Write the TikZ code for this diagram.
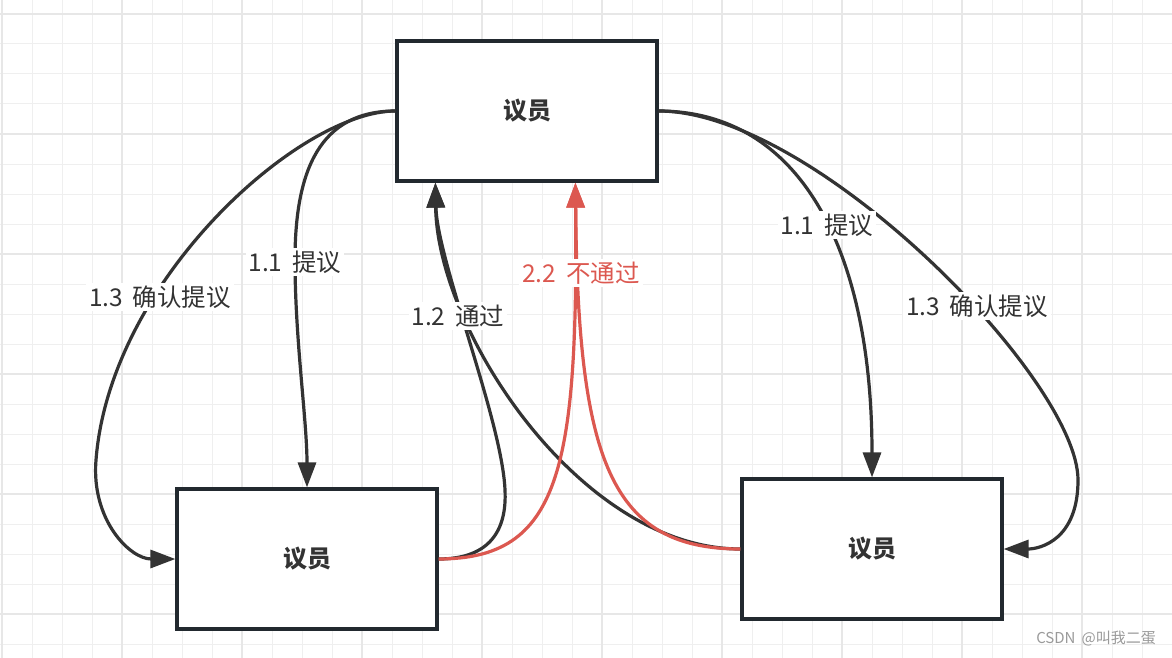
\documentclass[tikz,border=0pt]{standalone}
\usepackage{fontspec}
\setmainfont{Noto Sans CJK SC}[WordSpace=1.8]
\usetikzlibrary{arrows.meta,calc}
\definecolor{linedark}{HTML}{333333}
\definecolor{boxborder}{HTML}{22292F}
\definecolor{redline}{RGB}{220,88,80}
\definecolor{gridminor}{HTML}{EFEFEF}
\definecolor{gridmajor}{HTML}{E7E7E7}
\definecolor{wmgray}{HTML}{9A9A9A}
\tikzset{
  member/.style={draw=boxborder, line width=3.2pt, fill=white, minimum width=260pt, minimum height=140pt, inner sep=0pt, font=\fontsize{24}{27}\selectfont\bfseries, text=linedark},
  conn/.style={draw=linedark, line width=3.2pt, -{Triangle[length=25pt,width=18pt]}},
  redconn/.style={draw=redline, line width=3.2pt, -{Triangle[length=25pt,width=18pt]}},
  lbl/.style={fill=white, inner sep=3pt, font=\fontsize{24.5}{27}\selectfont, text=linedark},
  redlbl/.style={lbl, text=redline}
}
\begin{document}
\begin{tikzpicture}[x=1pt,y=-1pt]
\useasboundingbox (0,0) rectangle (1172,658);
\fill[white] (0,0) rectangle (1172,658);
% grid
\foreach \gx in {2,32,...,1172} {\draw[gridminor, line width=1pt] (\gx,0) -- (\gx,658);}
\foreach \gy in {14,44,...,658} {\draw[gridminor, line width=1pt] (0,\gy) -- (1172,\gy);}
\foreach \gx in {2,122,...,1172} {\draw[gridmajor, line width=1.4pt] (\gx,0) -- (\gx,658);}
\foreach \gy in {14,134,...,658} {\draw[gridmajor, line width=1.4pt] (0,\gy) -- (1172,\gy);}

% boxes
\node[member] (top) at (527,111) {议员};
\node[member] (bl) at (307,559) {议员};
\node[member] (br) at (872,549) {议员};

\coordinate (tin1) at ([xshift=40pt]top.south west);
\coordinate (tin2) at ([xshift=180pt]top.south west);

% left 1.3
\draw[conn] (top.west) .. controls (300,111) and (110,280) .. (96,460)
  .. controls (91,520) and (130,559) .. (bl.west);
% left 1.1
\draw[conn] (top.west) .. controls (320,111) and (295,170) .. (295,260)
  .. controls (295,340) and (307,420) .. (bl.north);
% 1.2 from bl
\draw[conn] (bl.east) .. controls (490,559) and (507,530) .. (505,490)
  .. controls (502,420) and (437,260) .. (tin1);
% 1.2 from br
\draw[conn] (br.west) .. controls (580,549) and (437,330) .. (tin1);
% red 2.2
\draw[redconn] (bl.east) .. controls (560,559) and (578,470) .. (tin2);
\draw[redconn] (br.west) .. controls (610,549) and (578,460) .. (tin2);
% right 1.1
\draw[conn] (top.east) .. controls (800,111) and (872,250) .. (br.north);
% right 1.3
\draw[conn] (top.east) .. controls (815,111) and (1078,380) .. (1078,480)
  .. controls (1078,540) and (1040,549) .. (br.east);

% labels
\node[lbl] (l13a) at (160,297) {1.3 确认提议};
\node[lbl] (l11a) at (295,262) {1.1 提议};
\node[lbl] (l12) at (458,316) {1.2 通过};
\node[redlbl] (l22) at (581,273) {2.2 不通过};
\node[lbl] (l11b) at (827,225) {1.1 提议};
\node[lbl] (l13b) at (977,306) {1.3 确认提议};

% watermark
\node[anchor=east, text=wmgray, font=\fontsize{15}{17}\selectfont, inner sep=0pt] (wm) at (1156,639) {CSDN @叫我二蛋};
\end{tikzpicture}
\end{document}
